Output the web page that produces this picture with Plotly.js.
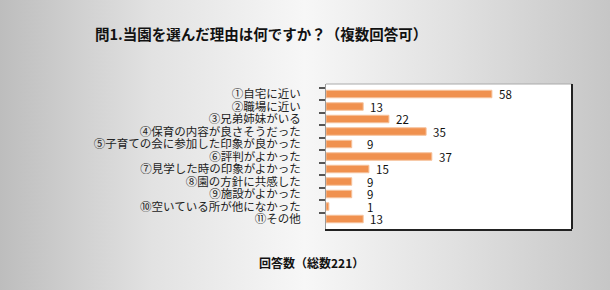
<!DOCTYPE html>
<html>
<head>
<meta charset="utf-8">
<script src="https://cdn.plot.ly/plotly-3.0.1.min.js"></script>
<style>
html,body{margin:0;padding:0;}
body{width:610px;height:290px;background:linear-gradient(to right,#bdbdbd 0%,#e2e2e2 25%,#f7f7f7 50%,#e0e0e0 75%,#c6c6c6 100%);}
#chart{width:610px;height:290px;}
</style>
</head>
<body>
<div id="chart"></div>
<script>
const categories = [
  "①自宅に近い",
  "②職場に近い",
  "③兄弟姉妹がいる",
  "④保育の内容が良さそうだった",
  "⑤子育ての会に参加した印象が良かった",
  "⑥評判がよかった",
  "⑦見学した時の印象がよかった",
  "⑧園の方針に共感した",
  "⑨施設がよかった",
  "⑩空いている所が他になかった",
  "⑪その他"
];
const values = [58, 13, 22, 35, 9, 37, 15, 9, 9, 1, 13];
const chartTitle = "問1.当園を選んだ理由は何ですか？（複数回答可）";
const axisTitle = "回答数（総数221）";

const FONT = '"Noto Sans CJK JP", "Noto Sans", sans-serif';

const trace = {
  type: 'bar',
  orientation: 'h',
  x: values,
  y: categories,
  marker: {color: '#f0914f', line: {color: '#f6c29c', width: 1}},
  hoverinfo: 'none'
};

const labelAnns = values.map((v, i) => ({
  x: Math.max(v, 12),
  y: categories[i],
  xref: 'x', yref: 'y',
  text: String(v),
  showarrow: false,
  xanchor: 'left',
  xshift: 5,
  font: {family: FONT, size: 11.5, color: '#111'}
}));

const layout = {
  width: 610, height: 290,
  margin: {l: 326, r: 38, t: 84, b: 61},
  paper_bgcolor: 'rgba(0,0,0,0)',
  plot_bgcolor: '#ffffff',
  bargap: 0.4,
  showlegend: false,
  title: {
    text: '<b>' + chartTitle + '</b>',
    x: 0.428, xref: 'container', xanchor: 'center',
    y: 0.879, yref: 'container', yanchor: 'middle',
    font: {family: FONT, size: 14.5, color: '#111'}
  },
  xaxis: {
    range: [0, 86],
    showticklabels: false, ticks: '', showgrid: false, zeroline: false,
    showline: true, linecolor: '#222', linewidth: 2
  },
  yaxis: {
    autorange: 'reversed',
    tickmode: 'linear', tick0: 0, dtick: 1,
    tickson: 'boundaries',
    ticks: 'outside', ticklen: 6, tickwidth: 2, tickcolor: '#555',
    showline: true, linecolor: '#999', linewidth: 1,
    showgrid: false, zeroline: false,
    ticklabelstandoff: 22,
    tickfont: {family: FONT, size: 11.5, color: '#222'}
  },
  shapes: [
    {type: 'line', xref: 'paper', yref: 'paper', x0: 0, x1: 1, y0: 1, y1: 1, line: {color: '#aaaaaa', width: 1}},
    {type: 'line', xref: 'paper', yref: 'paper', x0: 1, x1: 1, y0: 0, y1: 1, line: {color: '#222', width: 2}}
  ],
  annotations: labelAnns.concat([{
    text: '<b>' + axisTitle + '</b>',
    xref: 'paper', yref: 'paper',
    x: -0.057, y: -0.228, xanchor: 'center', yanchor: 'middle',
    showarrow: false,
    font: {family: FONT, size: 12, color: '#111'}
  }])
};

Plotly.newPlot('chart', [trace], layout, {displayModeBar: false, staticPlot: true});
</script>
</body>
</html>
